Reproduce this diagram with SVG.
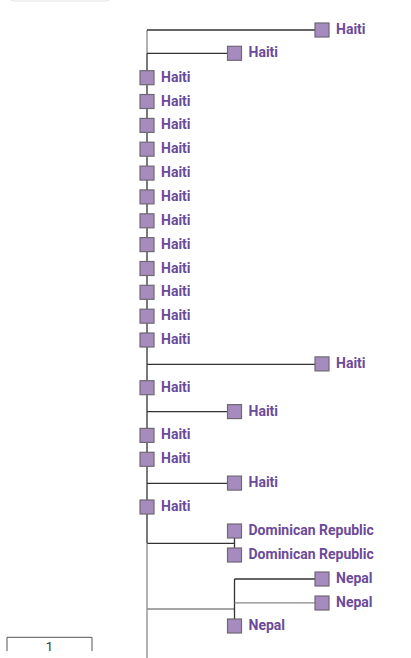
<svg xmlns="http://www.w3.org/2000/svg" width="411" height="658" viewBox="0 0 411 658">
<style>
.n rect{fill:#a68bbf;stroke:#6e6a72;stroke-width:1.2}
.n text{font-family:Roboto,"Liberation Sans",sans-serif;font-weight:bold;font-size:14px;fill:#6b4a9a}
.d{stroke:#333;stroke-width:1.3;fill:none}
.l{stroke:#888;stroke-width:1.3;fill:none}
.sc{stroke:#555;stroke-width:1;fill:none}
</style>
<rect x="10" y="-20" width="100" height="21" rx="4" fill="#fff" stroke="#e4e4e4" stroke-width="1"/>
<g id="connectors">
<path class="l" d="M147 30V53.3"/>
<path class="d" d="M147 30H322M147 53.3H234.5M147 53.3V543.3"/>
<path class="d" d="M147 364.3H322M147 411.7H234.5M147 483.4H234.5"/>
<path class="d" d="M147 543.3H234.5M234.5 531V555"/>
<path class="l" d="M147 543.3V658M147 609H234.5"/>
<path class="d" d="M234.5 579H322M234.5 579V626"/>
<path class="l" d="M234.5 602.9H322"/>
</g>
<g id="n0" class="n"><rect x="315" y="23" width="14" height="14"/><text x="336" y="34">Haiti</text></g>
<g id="n1" class="n"><rect x="227.5" y="46.3" width="14" height="14"/><text x="248.5" y="57.3">Haiti</text></g>
<g id="n2" class="n"><rect x="140" y="70.7" width="14" height="14"/><text x="161" y="81.7">Haiti</text></g>
<g id="n3" class="n"><rect x="140" y="94.5" width="14" height="14"/><text x="161" y="105.5">Haiti</text></g>
<g id="n4" class="n"><rect x="140" y="118.4" width="14" height="14"/><text x="161" y="129.4">Haiti</text></g>
<g id="n5" class="n"><rect x="140" y="142.2" width="14" height="14"/><text x="161" y="153.2">Haiti</text></g>
<g id="n6" class="n"><rect x="140" y="166.1" width="14" height="14"/><text x="161" y="177.1">Haiti</text></g>
<g id="n7" class="n"><rect x="140" y="189.9" width="14" height="14"/><text x="161" y="200.9">Haiti</text></g>
<g id="n8" class="n"><rect x="140" y="213.8" width="14" height="14"/><text x="161" y="224.8">Haiti</text></g>
<g id="n9" class="n"><rect x="140" y="237.6" width="14" height="14"/><text x="161" y="248.6">Haiti</text></g>
<g id="n10" class="n"><rect x="140" y="261.5" width="14" height="14"/><text x="161" y="272.5">Haiti</text></g>
<g id="n11" class="n"><rect x="140" y="285.3" width="14" height="14"/><text x="161" y="296.3">Haiti</text></g>
<g id="n12" class="n"><rect x="140" y="309.2" width="14" height="14"/><text x="161" y="320.2">Haiti</text></g>
<g id="n13" class="n"><rect x="140" y="333" width="14" height="14"/><text x="161" y="344">Haiti</text></g>
<g id="n14" class="n"><rect x="315" y="356.9" width="14" height="14"/><text x="336" y="367.9">Haiti</text></g>
<g id="n15" class="n"><rect x="140" y="380.7" width="14" height="14"/><text x="161" y="391.7">Haiti</text></g>
<g id="n16" class="n"><rect x="227.5" y="404.6" width="14" height="14"/><text x="248.5" y="415.6">Haiti</text></g>
<g id="n17" class="n"><rect x="140" y="428.4" width="14" height="14"/><text x="161" y="439.4">Haiti</text></g>
<g id="n18" class="n"><rect x="140" y="452.3" width="14" height="14"/><text x="161" y="463.3">Haiti</text></g>
<g id="n19" class="n"><rect x="227.5" y="476.1" width="14" height="14"/><text x="248.5" y="487.1">Haiti</text></g>
<g id="n20" class="n"><rect x="140" y="500" width="14" height="14"/><text x="161" y="511">Haiti</text></g>
<g id="n21" class="n"><rect x="227.5" y="524" width="14" height="14"/><text x="248.5" y="535">Dominican Republic</text></g>
<g id="n22" class="n"><rect x="227.5" y="548" width="14" height="14"/><text x="248.5" y="559">Dominican Republic</text></g>
<g id="n23" class="n"><rect x="315" y="572" width="14" height="14"/><text x="336" y="583">Nepal</text></g>
<g id="n24" class="n"><rect x="315" y="596" width="14" height="14"/><text x="336" y="607">Nepal</text></g>
<g id="n25" class="n"><rect x="227.5" y="619" width="14" height="14"/><text x="248.5" y="630">Nepal</text></g>
<g id="scale">
<path class="sc" d="M7 651V637.3H92V651"/>
<text x="49.5" y="651" text-anchor="middle" font-family="Roboto,'Liberation Sans',sans-serif" font-size="13" fill="#333">1</text>
</g>
</svg>
